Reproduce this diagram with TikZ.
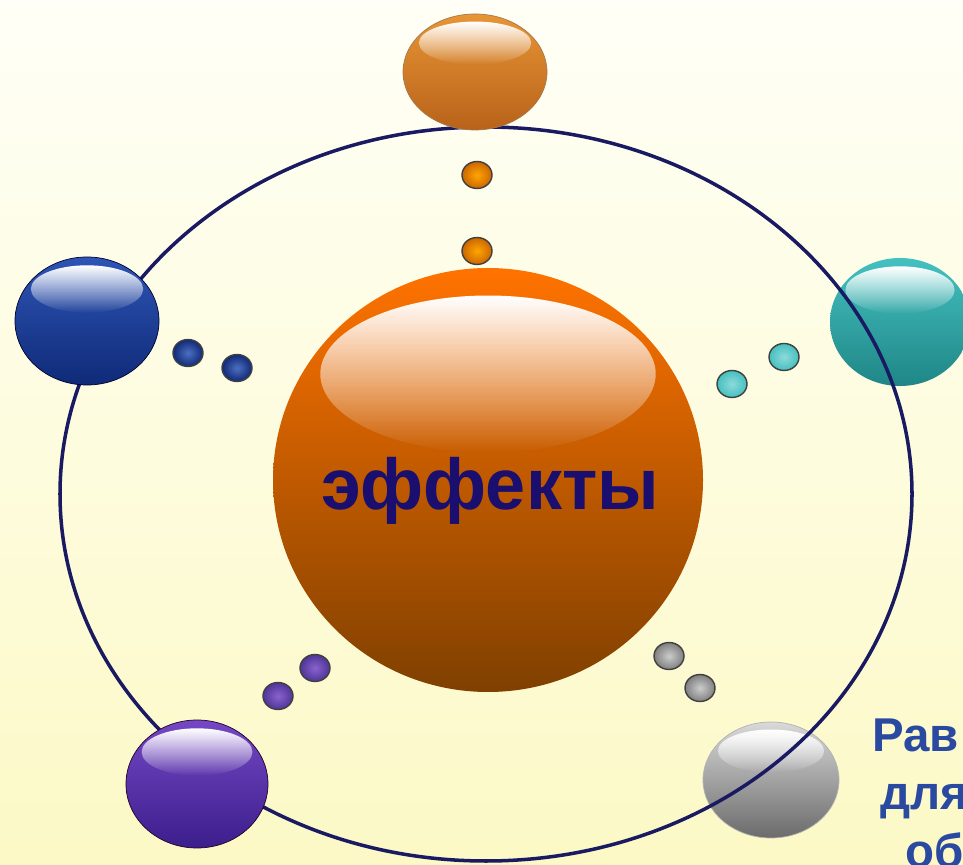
\documentclass[tikz,border=0pt]{standalone}
\usepackage{fontspec}
\setmainfont{Liberation Sans}
\usetikzlibrary{shapes,positioning,calc,fadings}

\definecolor{bgtop}{HTML}{FFFFF7}
\definecolor{bgbot}{HTML}{FCF9C6}
\definecolor{ringc}{HTML}{1A1A62}
\definecolor{wordc}{HTML}{1A0F6E}
\definecolor{notec}{HTML}{2A4AA2}
\definecolor{bluetop}{HTML}{2E55B5}
\definecolor{bluebot}{HTML}{0F2A78}
\definecolor{cyantop}{HTML}{45C0C0}
\definecolor{cyanbot}{HTML}{1F8686}
\definecolor{purptop}{HTML}{7448C4}
\definecolor{purpbot}{HTML}{3C1E8C}
\definecolor{orgtop}{HTML}{E89535}
\definecolor{orgbot}{HTML}{B8621A}

% glossy highlight on top of a ball: node, x radius, y radius
\newcommand{\gloss}[3]{%
  \fill[white, path fading=south] ($(#1.center)+(0,0.50*#3)$) ellipse [x radius=0.78*#2, y radius=0.37*#3];}

\begin{document}
\begin{tikzpicture}[x=0.02cm, y=0.02cm,
    orb/.style 2 args={ellipse, inner sep=0pt, minimum width=2*#1*0.02cm, minimum height=2*#2*0.02cm},
    bead/.style={ellipse, inner sep=0pt, minimum width=0.6cm, minimum height=0.54cm, draw=black!75, line width=0.8pt},
    ring/.style={draw=ringc, line width=2pt}]
			\useasboundingbox (0,0) rectangle (963,865);
			\clip (0,0) rectangle (963,865);
			
			% Background
			\shade[top color=bgtop, bottom color=bgbot] (0,0) rectangle (963,865);
			
			% Balls lying under the ring
			\node[orb={70}{64}, top color=cyantop, bottom color=cyanbot] (tright) at (900,543) {};
			\gloss{tright}{70}{64}
			\node[orb={68}{58}, top color=black!15, bottom color=black!58, draw=black!30] (tgray) at (771,85) {};
			\gloss{tgray}{68}{58}
			
			% Orbit
			\draw[ring] (486,371) ellipse [x radius=426, y radius=367];
			
			% Balls on the ring
			\node[orb={72}{58}, top color=orgtop, bottom color=orgbot, draw=orange!50!black!70] (ttop) at (475,793) {};
			\gloss{ttop}{72}{58}
			\node[orb={72}{64}, top color=bluetop, bottom color=bluebot, draw=blue!20!black] (tleft) at (87,544) {};
			\gloss{tleft}{72}{64}
			\node[orb={71}{64}, top color=purptop, bottom color=purpbot, draw=violet!30!black] (tpurple) at (197,81) {};
			\gloss{tpurple}{71}{64}
			
			% Centre
			\node[orb={215}{212}, top color=orange!90!red, bottom color=orange!50!black] (core) at (488,385) {};
			\gloss{core}{215}{212}
			\node[text=wordc, font=\bfseries\fontsize{41}{41}\selectfont] (word) at (490,374) {эффекты};
			
			% Beads between centre and balls
			\node[bead, inner color=orange!70!yellow, outer color=orange!80!black] (o1) at (477,690) {};
			\node[bead, inner color=orange!70!yellow, outer color=orange!80!black] (o2) at (477,614) {};
			\node[bead, inner color=bluetop!85!white, outer color=bluebot] (b1) at (188,512) {};
			\node[bead, inner color=bluetop!85!white, outer color=bluebot] (b2) at (237,497) {};
			\node[bead, inner color=cyantop!60!white, outer color=cyantop] (c1) at (732,481) {};
			\node[bead, inner color=cyantop!60!white, outer color=cyantop] (c2) at (784,508) {};
			\node[bead, inner color=black!20, outer color=black!50] (g1) at (669,209) {};
			\node[bead, inner color=black!20, outer color=black!50] (g2) at (700,177) {};
			\node[bead, inner color=purptop!85!white, outer color=purpbot!90!white] (p1) at (315,197) {};
			\node[bead, inner color=purptop!85!white, outer color=purpbot!90!white] (p2) at (278,169) {};
			
			% Note cut by the right edge
			\node[anchor=base west, inner sep=0pt, text=notec, font=\bfseries\fontsize{27}{27}\selectfont] (n1) at (872,113) {Рав};
			\node[anchor=base west, inner sep=0pt, text=notec, font=\bfseries\fontsize{27}{27}\selectfont] (n2) at (880,55) {для};
			\node[anchor=base west, inner sep=0pt, text=notec, font=\bfseries\fontsize{27}{27}\selectfont] (n3) at (905,-3) {об};
		\end{tikzpicture}
\end{document}
